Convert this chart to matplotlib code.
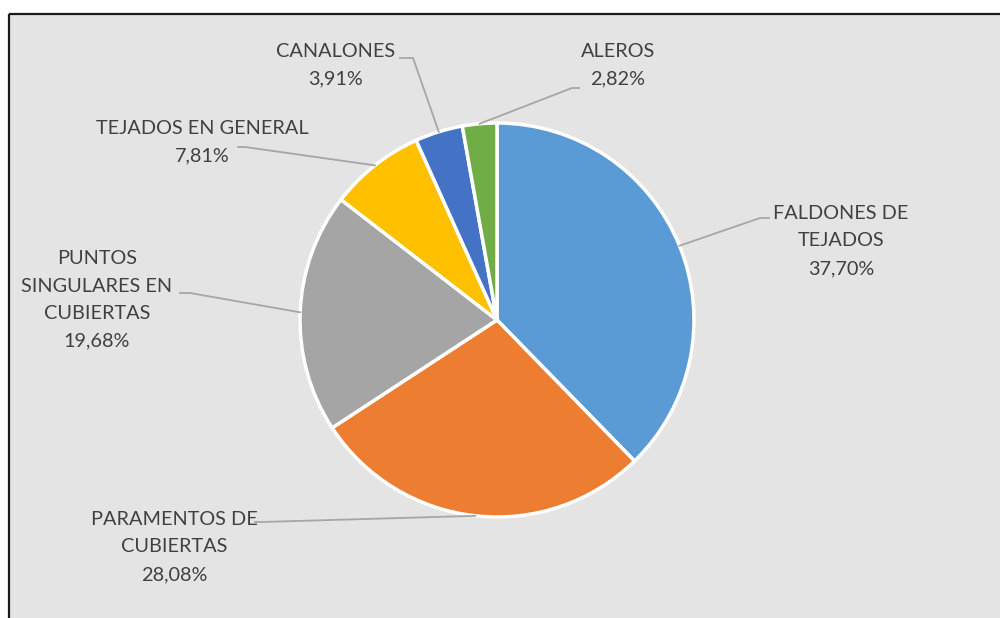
import numpy as np
import matplotlib
matplotlib.use("Agg")
import matplotlib.pyplot as plt

labels = ["FALDONES DE\nTEJADOS", "PARAMENTOS DE\nCUBIERTAS", "PUNTOS\nSINGULARES EN\nCUBIERTAS",
          "TEJADOS EN GENERAL", "CANALONES", "ALEROS"]
values = [37.70, 28.08, 19.68, 7.81, 3.91, 2.82]
pct_text = ["37,70%", "28,08%", "19,68%", "7,81%", "3,91%", "2,82%"]
colors = ["#5b9bd5", "#ed7d31", "#a5a5a5", "#ffc000", "#4472c4", "#70ad47"]

W, H = 1000, 618
fig = plt.figure(figsize=(10, 6.18), dpi=100)
fig.patch.set_facecolor("white")
ax = fig.add_axes([0, 0, 1, 1])

def Y(py):
    return H - py

cx, cy, R = 497, Y(320), 197
wedges, _ = ax.pie(values, colors=colors, startangle=90, counterclock=False,
                   center=(cx, cy), radius=R, frame=True,
                   wedgeprops=dict(edgecolor="white", linewidth=2.5))
ax.set_xlim(0, W)
ax.set_ylim(0, H)
ax.set_aspect("equal")
ax.axis("off")

# background panel and border
ax.add_patch(plt.Rectangle((9, 0), W - 9, Y(14), facecolor="#e4e4e4", edgecolor="none", zorder=0))
ax.plot([9, W], [Y(14), Y(14)], color="#1a1a1a", lw=1.6, zorder=1, solid_capstyle="butt")
ax.plot([9, 9], [Y(14), 0], color="#1a1a1a", lw=1.6, zorder=1, solid_capstyle="butt")

# label layout: text center (px), elbow point (px)
text_pos = [(841, 241), (174, 547), (97, 300), (202, 142), (336, 65), (618, 65)]
elbows = [[(769, 218), (760, 218)], [(255, 522), (262, 522)], [(180, 293), (190, 293)],
          [(238, 147), (245, 147)], [(400, 58), (413, 58)], [(579, 88), (572, 88)]]

font = dict(family=["Lato", "DejaVu Sans"], fontsize=14.3, color="#404040")
for w, lab, pt, tp, el in zip(wedges, labels, pct_text, text_pos, elbows):
    ang = np.deg2rad((w.theta1 + w.theta2) / 2)
    ex, ey = cx + R * np.cos(ang), cy + R * np.sin(ang)
    xs = [el[0][0], el[1][0], ex]
    ys = [Y(el[0][1]), Y(el[1][1]), ey]
    ax.plot(xs, ys, color="#a6a6a6", lw=1.3, zorder=3)
    ax.text(tp[0], Y(tp[1]), lab + "\n" + pt, ha="center", va="center",
            linespacing=1.75, zorder=4, **font)

fig.savefig("out.png", dpi=100, facecolor="white")
